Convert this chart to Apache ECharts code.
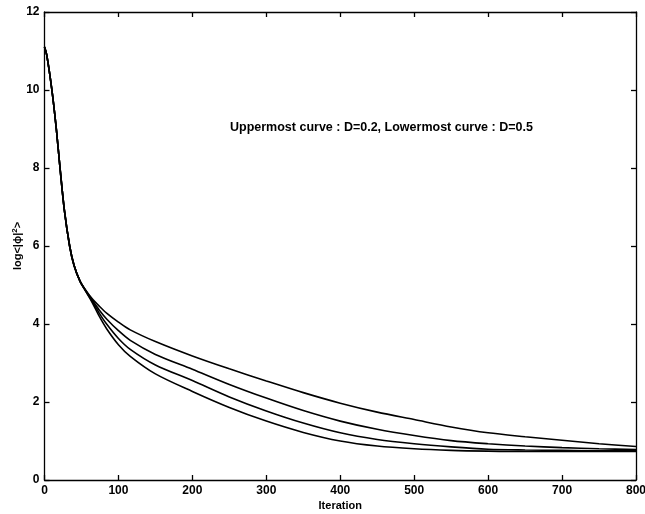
<!DOCTYPE html>
<html>
<head>
<meta charset="utf-8">
<script src="https://cdn.jsdelivr.net/npm/echarts@6/dist/echarts.min.js"></script>
<style>html,body{margin:0;padding:0;background:#fff}#c{width:645px;height:514px}</style>
</head>
<body>
<div id="c"></div>
<script>
const iterations = [0, 3, 10, 16, 21, 27, 34, 40, 48, 56, 64, 74, 84, 100, 116, 150, 200, 250, 300, 350, 400, 450, 500, 550, 600, 650, 700, 750, 800];
const curveD02 = [11.1, 10.9, 10.0, 9.0, 8.0, 6.9, 6.0, 5.5, 5.1, 4.86, 4.66, 4.46, 4.28, 4.05, 3.85, 3.55, 3.18, 2.85, 2.54, 2.24, 1.97, 1.74, 1.55, 1.36, 1.21, 1.11, 1.02, 0.93, 0.86];
const curveD03 = [11.1, 10.9, 10.0, 9.0, 8.0, 6.9, 6.0, 5.5, 5.1, 4.85, 4.63, 4.36, 4.13, 3.83, 3.58, 3.22, 2.84, 2.45, 2.10, 1.78, 1.51, 1.30, 1.14, 1.01, 0.93, 0.87, 0.83, 0.80, 0.78];
const curveD04 = [11.1, 10.9, 10.0, 9.0, 8.0, 6.9, 6.0, 5.5, 5.1, 4.84, 4.60, 4.28, 4.00, 3.63, 3.35, 2.95, 2.55, 2.13, 1.77, 1.46, 1.21, 1.04, 0.93, 0.85, 0.79, 0.77, 0.76, 0.75, 0.75];
const curveD05 = [11.1, 10.9, 10.0, 9.0, 8.0, 6.9, 6.0, 5.5, 5.1, 4.83, 4.57, 4.20, 3.88, 3.47, 3.17, 2.72, 2.27, 1.86, 1.51, 1.22, 1.00, 0.87, 0.80, 0.76, 0.74, 0.73, 0.73, 0.73, 0.73];
const xTicks = { min: 0, max: 800, interval: 100 };
const yTicks = { min: 0, max: 12, interval: 2 };
const annotation = 'Uppermost curve : D=0.2, Lowermost curve : D=0.5';

const font = 'Liberation Sans, Arial, Helvetica, sans-serif';
const pair = ys => iterations.map((x, i) => [x, ys[i]]);
const axisCommon = {
  axisLine: { show: true, onZero: false, lineStyle: { color: '#000', width: 1.3 } },
  axisTick: { show: true, inside: true, length: 5, lineStyle: { color: '#000', width: 1.3 } },
  splitLine: { show: false }
};
const chart = echarts.init(document.getElementById('c'));
chart.setOption({
  animation: false,
  backgroundColor: '#fff',
  grid: { left: 44.5, right: 9, top: 12, bottom: 34, containLabel: false, outerBoundsMode: 'none' },
  xAxis: [
    Object.assign({ type: 'value', position: 'bottom', min: xTicks.min, max: xTicks.max, interval: xTicks.interval,
      name: 'Iteration', nameLocation: 'middle', nameGap: 20, nameMoveOverlap: false,
      nameTextStyle: { fontFamily: font, fontWeight: 'bold', fontSize: 11, color: '#000' },
      axisLabel: { fontFamily: font, fontWeight: 'bold', fontSize: 12, color: '#000', margin: 5 } }, axisCommon),
    Object.assign({ type: 'value', position: 'top', min: xTicks.min, max: xTicks.max, interval: xTicks.interval,
      axisLabel: { show: false } }, axisCommon)
  ],
  yAxis: [
    Object.assign({ type: 'value', position: 'left', min: yTicks.min, max: yTicks.max, interval: yTicks.interval,
      name: 'log<|ϕ|{sup|2}>', nameLocation: 'middle', nameGap: 20, nameRotate: 90, nameMoveOverlap: false,
      nameTextStyle: { fontFamily: font, fontWeight: 'bold', fontSize: 11, color: '#000',
        rich: { sup: { fontFamily: font, fontWeight: 'bold', fontSize: 8, color: '#000', verticalAlign: 'top', padding: [0, 0, 6, 0] } } },
      axisLabel: { fontFamily: font, fontWeight: 'bold', fontSize: 12, color: '#000', margin: 5 } }, axisCommon),
    Object.assign({ type: 'value', position: 'right', min: yTicks.min, max: yTicks.max, interval: yTicks.interval,
      axisLabel: { show: false } }, axisCommon)
  ],
  graphic: [{
    type: 'text', left: 230, top: 121,
    style: { text: annotation, fontFamily: font, fontWeight: 'bold', fontSize: 12.5, fill: '#000' }
  }],
  series: [curveD02, curveD03, curveD04, curveD05].map(ys => ({
    type: 'line', data: pair(ys), showSymbol: false, smooth: 0.3,
    lineStyle: { color: '#000', width: 1.6 }, xAxisIndex: 0, yAxisIndex: 0
  }))
});
</script>
</body>
</html>
